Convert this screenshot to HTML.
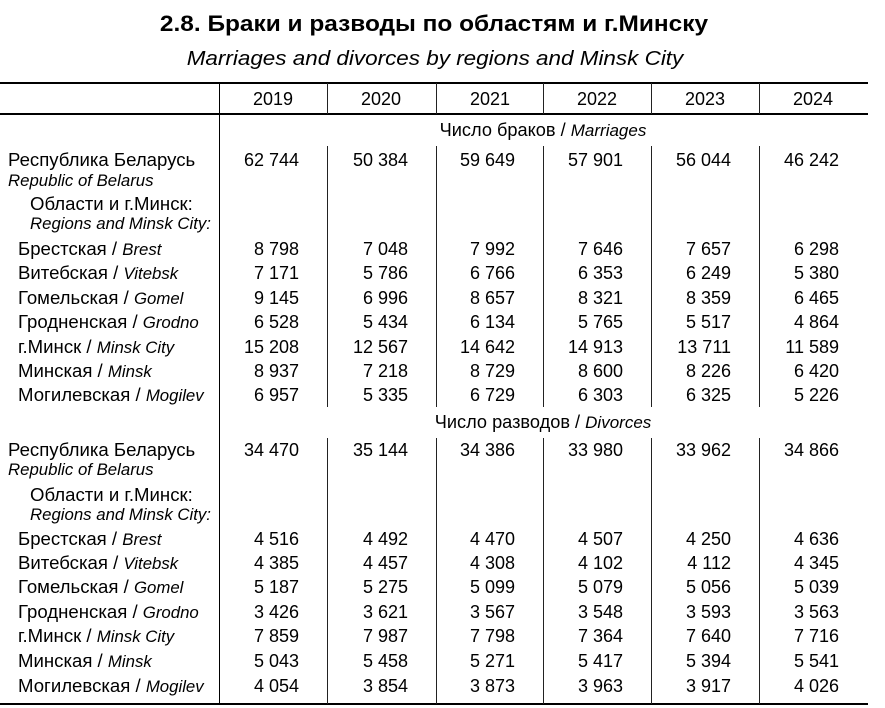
<!DOCTYPE html>
<html><head><meta charset="utf-8">
<style>
*{margin:0;padding:0;box-sizing:border-box}
body{width:885px;height:708px;background:#fff;position:relative;overflow:hidden;font-family:"Liberation Sans",Arial,sans-serif;color:#000}
.a{position:absolute;white-space:nowrap}
.title{left:0;width:868px;top:10px;text-align:center;font-weight:bold;font-size:22px;line-height:28px;transform:scaleX(1.11);transform-origin:434px 0}
.sub{left:0;width:870px;top:46px;text-align:center;font-style:italic;font-size:20.5px;line-height:26px;transform:scaleX(1.095);transform-origin:435px 0}
.h{position:absolute;background:#000;height:2px;left:0;width:868px}
.v{position:absolute;background:#222;width:1px}
.row{position:absolute;left:0;width:885px;height:24px;font-size:18px;line-height:24px}
.row span{position:absolute;white-space:nowrap}
.c1{right:586px}.c2{right:477px}.c3{right:370px}.c4{right:262px}.c5{right:154px}.c6{right:46px}
.i{font-style:italic;font-size:16.8px}
.L{font-size:18.6px}
.lab{left:18px;font-size:18.6px}
.y span{width:108px;text-align:center}
.sec{left:219px;width:648px;text-align:center;font-size:18.2px}
.sec i{font-size:17px}
</style></head><body>
<div class="a title">2.8. Браки и разводы по областям и г.Минску</div>
<div class="a sub">Marriages and divorces by regions and Minsk City</div>

<div class="h" style="top:82px"></div>
<div class="h" style="top:113px"></div>
<div class="h" style="top:703px"></div>

<div class="v" style="left:219px;top:83px;height:621px;background:#000"></div>
<div class="v" style="left:327px;top:83px;height:31px"></div>
<div class="v" style="left:436px;top:83px;height:31px"></div>
<div class="v" style="left:543px;top:83px;height:31px"></div>
<div class="v" style="left:651px;top:83px;height:31px"></div>
<div class="v" style="left:759px;top:83px;height:31px"></div>
<div class="v" style="left:327px;top:146px;height:261px"></div>
<div class="v" style="left:436px;top:146px;height:261px"></div>
<div class="v" style="left:543px;top:146px;height:261px"></div>
<div class="v" style="left:651px;top:146px;height:261px"></div>
<div class="v" style="left:759px;top:146px;height:261px"></div>
<div class="v" style="left:327px;top:438px;height:266px"></div>
<div class="v" style="left:436px;top:438px;height:266px"></div>
<div class="v" style="left:543px;top:438px;height:266px"></div>
<div class="v" style="left:651px;top:438px;height:266px"></div>
<div class="v" style="left:759px;top:438px;height:266px"></div>

<div class="row y" style="top:87px">
<span style="left:219px">2019</span><span style="left:327px">2020</span><span style="left:436px">2021</span><span style="left:543px">2022</span><span style="left:651px">2023</span><span style="left:759px">2024</span>
</div>

<div class="row" style="top:118px"><span class="sec">Число браков / <i>Marriages</i></span></div>

<div class="row" style="top:148px"><span class="L" style="left:8px">Республика Беларусь</span>
<span class="c1">62 744</span><span class="c2">50 384</span><span class="c3">59 649</span><span class="c4">57 901</span><span class="c5">56 044</span><span class="c6">46 242</span></div>
<div class="row" style="top:169px"><span class="i" style="left:8px">Republic of Belarus</span></div>
<div class="row" style="top:192px"><span class="L" style="left:30px">Области и г.Минск:</span></div>
<div class="row" style="top:212px"><span class="i" style="left:30px">Regions and Minsk City:</span></div>

<div class="row" style="top:237px"><span class="lab">Брестская / <i class="i">Brest</i></span>
<span class="c1">8 798</span><span class="c2">7 048</span><span class="c3">7 992</span><span class="c4">7 646</span><span class="c5">7 657</span><span class="c6">6 298</span></div>
<div class="row" style="top:261px"><span class="lab">Витебская / <i class="i">Vitebsk</i></span>
<span class="c1">7 171</span><span class="c2">5 786</span><span class="c3">6 766</span><span class="c4">6 353</span><span class="c5">6 249</span><span class="c6">5 380</span></div>
<div class="row" style="top:286px"><span class="lab">Гомельская / <i class="i">Gomel</i></span>
<span class="c1">9 145</span><span class="c2">6 996</span><span class="c3">8 657</span><span class="c4">8 321</span><span class="c5">8 359</span><span class="c6">6 465</span></div>
<div class="row" style="top:310px"><span class="lab">Гродненская / <i class="i">Grodno</i></span>
<span class="c1">6 528</span><span class="c2">5 434</span><span class="c3">6 134</span><span class="c4">5 765</span><span class="c5">5 517</span><span class="c6">4 864</span></div>
<div class="row" style="top:335px"><span class="lab">г.Минск / <i class="i">Minsk City</i></span>
<span class="c1">15 208</span><span class="c2">12 567</span><span class="c3">14 642</span><span class="c4">14 913</span><span class="c5">13 711</span><span class="c6">11 589</span></div>
<div class="row" style="top:359px"><span class="lab">Минская / <i class="i">Minsk</i></span>
<span class="c1">8 937</span><span class="c2">7 218</span><span class="c3">8 729</span><span class="c4">8 600</span><span class="c5">8 226</span><span class="c6">6 420</span></div>
<div class="row" style="top:383px"><span class="lab">Могилевская / <i class="i">Mogilev</i></span>
<span class="c1">6 957</span><span class="c2">5 335</span><span class="c3">6 729</span><span class="c4">6 303</span><span class="c5">6 325</span><span class="c6">5 226</span></div>

<div class="row" style="top:410px"><span class="sec">Число разводов / <i>Divorces</i></span></div>

<div class="row" style="top:438px"><span class="L" style="left:8px">Республика Беларусь</span>
<span class="c1">34 470</span><span class="c2">35 144</span><span class="c3">34 386</span><span class="c4">33 980</span><span class="c5">33 962</span><span class="c6">34 866</span></div>
<div class="row" style="top:458px"><span class="i" style="left:8px">Republic of Belarus</span></div>
<div class="row" style="top:483px"><span class="L" style="left:30px">Области и г.Минск:</span></div>
<div class="row" style="top:503px"><span class="i" style="left:30px">Regions and Minsk City:</span></div>

<div class="row" style="top:527px"><span class="lab">Брестская / <i class="i">Brest</i></span>
<span class="c1">4 516</span><span class="c2">4 492</span><span class="c3">4 470</span><span class="c4">4 507</span><span class="c5">4 250</span><span class="c6">4 636</span></div>
<div class="row" style="top:551px"><span class="lab">Витебская / <i class="i">Vitebsk</i></span>
<span class="c1">4 385</span><span class="c2">4 457</span><span class="c3">4 308</span><span class="c4">4 102</span><span class="c5">4 112</span><span class="c6">4 345</span></div>
<div class="row" style="top:575px"><span class="lab">Гомельская / <i class="i">Gomel</i></span>
<span class="c1">5 187</span><span class="c2">5 275</span><span class="c3">5 099</span><span class="c4">5 079</span><span class="c5">5 056</span><span class="c6">5 039</span></div>
<div class="row" style="top:600px"><span class="lab">Гродненская / <i class="i">Grodno</i></span>
<span class="c1">3 426</span><span class="c2">3 621</span><span class="c3">3 567</span><span class="c4">3 548</span><span class="c5">3 593</span><span class="c6">3 563</span></div>
<div class="row" style="top:624px"><span class="lab">г.Минск / <i class="i">Minsk City</i></span>
<span class="c1">7 859</span><span class="c2">7 987</span><span class="c3">7 798</span><span class="c4">7 364</span><span class="c5">7 640</span><span class="c6">7 716</span></div>
<div class="row" style="top:649px"><span class="lab">Минская / <i class="i">Minsk</i></span>
<span class="c1">5 043</span><span class="c2">5 458</span><span class="c3">5 271</span><span class="c4">5 417</span><span class="c5">5 394</span><span class="c6">5 541</span></div>
<div class="row" style="top:674px"><span class="lab">Могилевская / <i class="i">Mogilev</i></span>
<span class="c1">4 054</span><span class="c2">3 854</span><span class="c3">3 873</span><span class="c4">3 963</span><span class="c5">3 917</span><span class="c6">4 026</span></div>
</body></html>
